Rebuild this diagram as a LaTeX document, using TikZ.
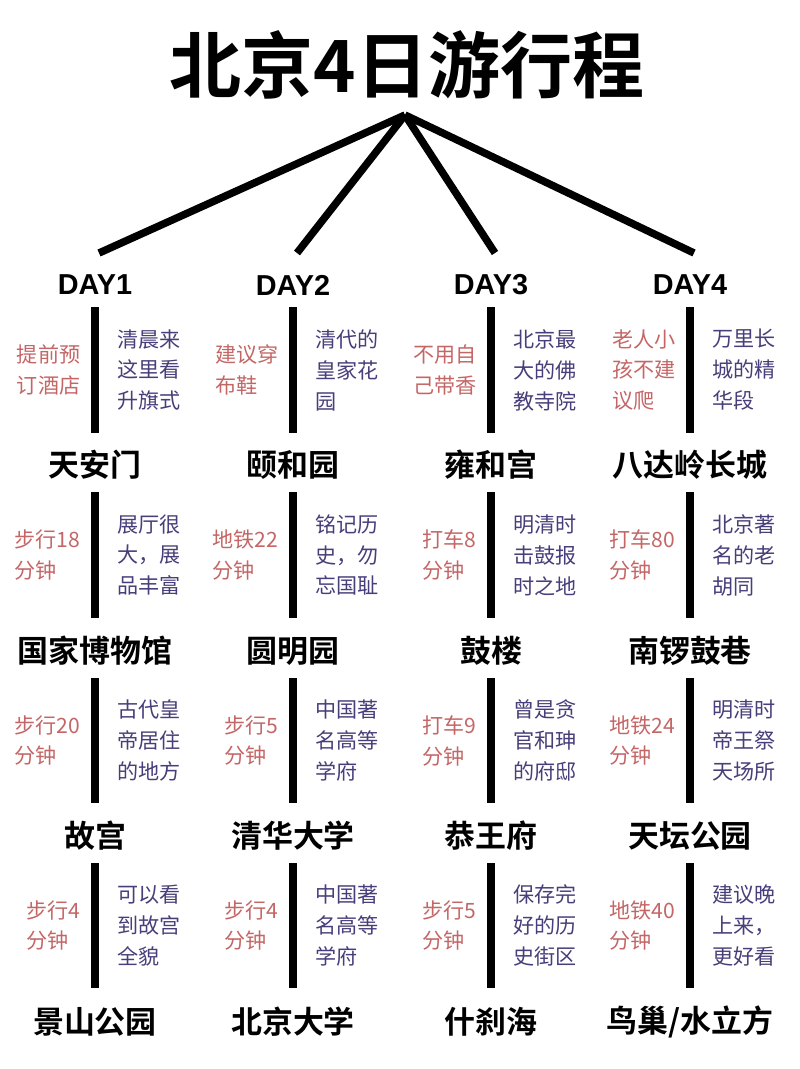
\documentclass[tikz,border=0pt]{standalone}
\usepackage{fontspec}
\setmainfont{Liberation Sans}
\newfontfamily\cjk{Noto Sans CJK SC}[BoldFont={Noto Sans CJK SC Bold}]
\usetikzlibrary{calc}
\definecolor{tipred}{RGB}{196,102,102}
\definecolor{notepurple}{RGB}{72,62,122}
\tikzset{
  place/.style={font=\cjk\bfseries\fontsize{8.8}{9}\selectfont, inner sep=0pt},
  day/.style={font=\bfseries\fontsize{8.2}{9}\selectfont, inner sep=0pt},
  tip/.style={font=\cjk\fontsize{6}{8.8}\selectfont, text=tipred, align=left, inner sep=0pt},
  note/.style={font=\cjk\fontsize{6}{8.8}\selectfont, text=notepurple, align=left, inner sep=0pt},
  bar/.style={line width=0.08cm, black},
  branch/.style={line width=0.075cm, black}
}
\begin{document}
\begin{tikzpicture}[x=0.01cm, y=-0.01cm]
	\useasboundingbox (0,0) rectangle (800,1069);
	\node [font=\cjk\bfseries\fontsize{20.5}{24}\selectfont, inner sep=0pt] (title) at (407,65) {北京4日游行程};
	\coordinate (apex) at (405,115);
	% columns
	\foreach \c/\x in {1/95, 2/293, 3/491, 4/690} {
		\node [day] (d\c) at (\x,285) {DAY\c};
		\coordinate (top\c) at (\x+4,253);
		\draw [branch] (apex) -- (top\c);
		\foreach \r/\y in {1/465, 2/651, 3/836, 4/1022} {
			\coordinate (p\c\r) at (\x,\y);
		}
		\foreach \s/\a/\b in {1/307/433, 2/492/618, 3/678/803, 4/863/988} {
			\coordinate (b\c\s a) at (\x,\a);
			\coordinate (b\c\s b) at (\x,\b);
			\draw [bar] (b\c\s a) -- (b\c\s b);
		}
	}
	% places
	\foreach \c/\r/\name in {1/1/天安门, 1/2/国家博物馆, 1/3/故宫, 1/4/景山公园,
		2/1/颐和园, 2/2/圆明园, 2/3/清华大学, 2/4/北京大学,
		3/1/雍和宫, 3/2/鼓楼, 3/3/恭王府, 3/4/什刹海,
		4/1/八达岭长城, 4/2/南锣鼓巷, 4/3/天坛公园, 4/4/{鸟巢/水立方}} {
		\node [place] (n\c\r) at (p\c\r) {\name};
	}
	% tips (left) and notes (right)
	\foreach \c/\s/\tiptext/\notetext in {
		1/1/{提前预\\订酒店}/{清晨来\\这里看\\升旗式},
		1/2/{步行18\\分钟}/{展厅很\\大，展\\品丰富},
		1/3/{步行20\\分钟}/{古代皇\\帝居住\\的地方},
		1/4/{步行4\\分钟}/{可以看\\到故宫\\全貌},
		2/1/{建议穿\\布鞋}/{清代的\\皇家花\\园},
		2/2/{地铁22\\分钟}/{铭记历\\史，勿\\忘国耻},
		2/3/{步行5\\分钟}/{中国著\\名高等\\学府},
		2/4/{步行4\\分钟}/{中国著\\名高等\\学府},
		3/1/{不用自\\己带香}/{北京最\\大的佛\\教寺院},
		3/2/{打车8\\分钟}/{明清时\\击鼓报\\时之地},
		3/3/{打车9\\分钟}/{曾是贪\\官和珅\\的府邸},
		3/4/{步行5\\分钟}/{保存完\\好的历\\史街区},
		4/1/{老人小\\孩不建\\议爬}/{万里长\\城的精\\华段},
		4/2/{打车80\\分钟}/{北京著\\名的老\\胡同},
		4/3/{地铁24\\分钟}/{明清时\\帝王祭\\天场所},
		4/4/{地铁40\\分钟}/{建议晚\\上来，\\更好看}} {
		\coordinate (m\c\s) at ($(b\c\s a)!0.5!(b\c\s b)$);
		\node [tip, anchor=east] (t\c\s) at ($(m\c\s)+(-14,0)$) {\tiptext};
		\node [note, anchor=west] (o\c\s) at ($(m\c\s)+(22,0)$) {\notetext};
	}
\end{tikzpicture}
\end{document}
